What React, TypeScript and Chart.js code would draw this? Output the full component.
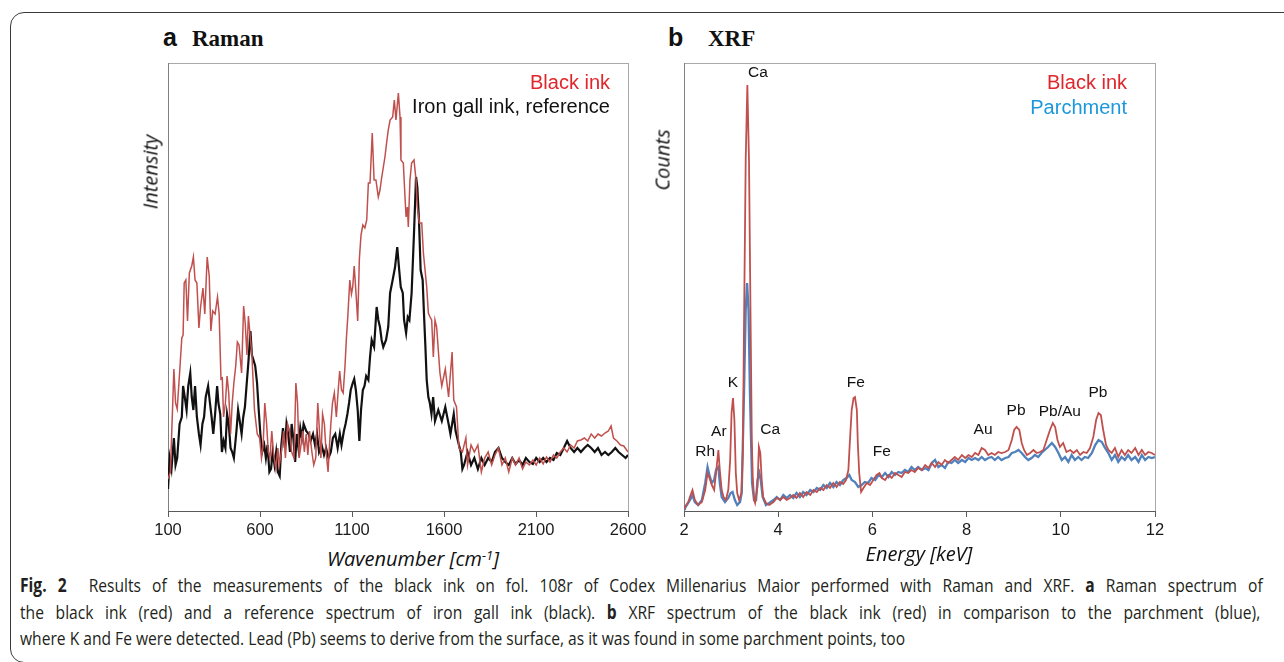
import React, { useEffect, useLayoutEffect, useRef } from "react";
import { Chart, registerables } from "chart.js";
Chart.register(...registerables);

// ---------- DATA ----------
const ramanTicks = [100, 600, 1100, 1600, 2100, 2600];
const xrfTicks = [2, 4, 6, 8, 10, 12];

// Raman: [wavenumber cm-1, intensity (a.u.)]
const ramanBlackInk: [number, number][] = [
  [100,32],[113,39],[132,142],[141,108],[150,102],[163,138],[175,173],[182,176],[188,228],[197,231],[206,190],[216,238],[229,245],[238,254],[247,231],[257,228],[268,183],[277,204],[290,223],[300,197],[313,254],[324,235],[333,180],[343,200],[356,197],[369,214],[378,197],[388,132],[395,133],[402,94],[412,108],[421,135],[430,118],[440,77],[449,108],[458,128],[468,145],[477,169],[486,166],[500,138],[511,205],[520,187],[529,156],[537,195],[546,176],[556,156],[570,101],[585,77],[598,73],[608,53],[617,66],[626,108],[636,87],[645,59],[654,53],[664,80],[673,59],[686,42],[697,63],[705,46],[716,59],[729,80],[738,53],[750,87],[761,80],[772,59],[785,53],[795,128],[804,108],[813,53],[823,66],[832,80],[841,59],[851,77],[860,56],[869,80],[882,59],[892,46],[903,53],[914,108],[921,87],[931,53],[940,97],[950,87],[959,59],[970,39],[977,63],[985,87],[994,108],[1004,118],[1015,94],[1024,118],[1033,140],[1043,121],[1052,118],[1062,145],[1069,171],[1078,197],[1088,231],[1097,217],[1104,224],[1112,245],[1123,214],[1131,190],[1140,252],[1149,276],[1159,286],[1170,283],[1180,291],[1189,328],[1198,328],[1210,378],[1220,331],[1230,331],[1243,314],[1252,321],[1261,333],[1279,354],[1288,368],[1297,381],[1307,391],[1321,394],[1330,411],[1339,391],[1352,418],[1361,394],[1366,351],[1379,348],[1388,314],[1394,294],[1401,304],[1406,284],[1415,331],[1424,348],[1437,351],[1448,331],[1455,304],[1466,288],[1479,288],[1488,258],[1506,224],[1515,198],[1524,194],[1533,191],[1542,154],[1551,191],[1560,184],[1578,138],[1588,125],[1607,142],[1625,114],[1644,159],[1653,111],[1668,104],[1681,63],[1700,59],[1719,73],[1728,46],[1747,66],[1765,59],[1784,66],[1803,39],[1821,53],[1840,59],[1859,46],[1877,56],[1896,63],[1915,46],[1933,53],[1952,39],[1971,53],[1989,46],[2008,53],[2027,42],[2045,49],[2064,46],[2083,51],[2101,46],[2120,53],[2139,47],[2157,54],[2176,49],[2195,56],[2213,53],[2232,59],[2251,63],[2269,59],[2288,66],[2307,63],[2325,70],[2344,71],[2363,73],[2381,70],[2400,77],[2419,73],[2437,77],[2456,75],[2475,78],[2493,80],[2508,85],[2521,73],[2540,70],[2559,66],[2577,65],[2600,59]
];
const ramanIronGallRef: [number, number][] = [
  [100,22],[109,53],[119,42],[132,73],[141,46],[150,53],[163,87],[175,94],[182,125],[191,114],[201,101],[210,125],[221,138],[229,114],[238,101],[247,125],[257,94],[268,77],[277,66],[287,87],[296,94],[305,114],[318,125],[328,108],[337,94],[346,77],[356,97],[367,125],[374,108],[384,97],[393,59],[402,70],[412,63],[421,97],[430,87],[440,63],[449,59],[458,53],[472,80],[481,101],[490,90],[500,77],[509,94],[518,104],[528,128],[537,149],[548,180],[556,156],[563,152],[574,145],[584,128],[593,101],[602,77],[612,59],[623,66],[632,53],[641,66],[651,39],[660,42],[669,59],[679,46],[688,59],[697,39],[707,35],[716,66],[725,83],[735,63],[744,87],[753,77],[763,59],[772,87],[781,73],[791,49],[800,77],[809,63],[819,83],[828,73],[837,87],[851,80],[864,77],[875,70],[888,77],[899,66],[910,77],[921,59],[935,66],[948,56],[959,63],[972,53],[985,59],[996,73],[1009,77],[1022,63],[1034,77],[1043,66],[1056,80],[1065,87],[1075,97],[1084,108],[1093,121],[1104,128],[1112,132],[1121,121],[1131,101],[1140,70],[1149,101],[1159,121],[1168,125],[1177,135],[1189,131],[1198,154],[1207,171],[1220,164],[1234,204],[1243,191],[1252,184],[1261,171],[1270,164],[1285,171],[1297,184],[1307,218],[1321,231],[1334,244],[1346,264],[1355,244],[1365,224],[1376,218],[1383,191],[1394,178],[1403,194],[1412,191],[1424,218],[1437,278],[1448,334],[1455,324],[1464,291],[1473,241],[1484,231],[1491,198],[1499,164],[1506,131],[1515,114],[1523,108],[1532,97],[1541,114],[1551,90],[1569,101],[1588,90],[1607,104],[1625,87],[1635,77],[1653,97],[1663,80],[1681,66],[1691,59],[1700,42],[1709,46],[1728,59],[1747,46],[1765,53],[1784,42],[1803,53],[1821,46],[1840,53],[1859,49],[1877,59],[1896,63],[1915,53],[1933,49],[1952,46],[1971,53],[1989,47],[2008,51],[2027,46],[2045,53],[2064,49],[2083,47],[2101,53],[2120,49],[2139,53],[2157,49],[2176,53],[2195,51],[2213,58],[2232,56],[2251,63],[2269,70],[2288,63],[2307,59],[2325,63],[2344,59],[2363,63],[2381,66],[2400,63],[2419,59],[2437,63],[2456,56],[2475,59],[2493,56],[2512,59],[2531,63],[2549,59],[2568,56],[2587,53],[2600,56]
];

// XRF: [energy keV, counts (a.u.)]
const xrfBlackInk: [number, number][] = [
  [2.00,3],[2.02,4],[2.09,9],[2.14,16],[2.18,21],[2.23,11],[2.30,6],[2.38,9],[2.45,21],[2.50,38],[2.54,33],[2.59,26],[2.64,21],[2.68,38],[2.73,61],[2.76,41],[2.80,21],[2.84,14],[2.89,11],[2.94,21],[2.98,51],[3.01,98],[3.04,113],[3.07,91],[3.10,38],[3.13,18],[3.17,11],[3.22,18],[3.25,60],[3.274,184],[3.31,351],[3.345,426],[3.38,351],[3.415,184],[3.44,70],[3.46,34],[3.49,11],[3.51,8],[3.56,24],[3.59,64],[3.62,58],[3.65,31],[3.68,14],[3.74,8],[3.81,6],[3.90,9],[3.97,13],[4.04,11],[4.11,14],[4.18,11],[4.25,13],[4.32,16],[4.39,13],[4.46,18],[4.53,14],[4.60,19],[4.68,16],[4.75,21],[4.82,19],[4.89,23],[4.96,21],[5.03,26],[5.10,23],[5.17,28],[5.24,24],[5.31,29],[5.38,27],[5.44,31],[5.49,41],[5.52,68],[5.56,101],[5.60,113],[5.63,114],[5.67,101],[5.69,68],[5.72,38],[5.76,19],[5.81,23],[5.88,28],[5.95,26],[6.02,31],[6.09,36],[6.15,38],[6.20,33],[6.27,31],[6.34,36],[6.41,33],[6.48,38],[6.55,36],[6.62,34],[6.69,39],[6.76,38],[6.83,41],[6.90,39],[6.97,43],[7.05,41],[7.12,46],[7.19,43],[7.26,48],[7.33,44],[7.40,49],[7.47,46],[7.54,51],[7.61,48],[7.68,51],[7.75,54],[7.82,51],[7.90,56],[7.97,53],[8.04,56],[8.11,54],[8.18,58],[8.25,56],[8.32,63],[8.39,61],[8.46,56],[8.53,58],[8.60,56],[8.67,59],[8.74,58],[8.82,59],[8.89,61],[8.96,71],[9.01,81],[9.06,84],[9.12,81],[9.17,68],[9.22,61],[9.28,56],[9.35,58],[9.42,61],[9.49,58],[9.56,59],[9.63,61],[9.70,71],[9.77,81],[9.83,88],[9.88,84],[9.93,71],[9.98,64],[10.05,68],[10.12,59],[10.20,61],[10.27,58],[10.34,61],[10.41,56],[10.48,59],[10.55,58],[10.62,63],[10.69,74],[10.75,91],[10.80,98],[10.85,96],[10.90,81],[10.96,66],[11.01,61],[11.08,58],[11.15,63],[11.22,54],[11.29,61],[11.36,56],[11.43,61],[11.50,58],[11.58,63],[11.65,56],[11.72,61],[11.79,56],[11.86,59],[11.93,58],[12.00,56]
];
const xrfParchment: [number, number][] = [
  [2.00,2],[2.02,3],[2.09,8],[2.14,12],[2.18,16],[2.23,9],[2.30,6],[2.38,11],[2.45,28],[2.50,44],[2.54,36],[2.59,28],[2.64,31],[2.68,41],[2.73,44],[2.76,28],[2.80,14],[2.87,9],[2.94,13],[2.99,18],[3.03,19],[3.08,11],[3.13,6],[3.19,9],[3.225,18],[3.274,118],[3.31,201],[3.34,228],[3.37,201],[3.40,118],[3.445,28],[3.487,11],[3.53,11],[3.56,31],[3.60,38],[3.63,31],[3.67,14],[3.74,6],[3.81,8],[3.90,11],[3.97,14],[4.04,11],[4.11,16],[4.18,13],[4.25,16],[4.32,13],[4.39,18],[4.46,14],[4.53,19],[4.60,16],[4.68,21],[4.75,19],[4.82,23],[4.89,21],[4.96,26],[5.03,23],[5.10,28],[5.17,24],[5.24,29],[5.31,26],[5.38,31],[5.45,33],[5.51,36],[5.56,31],[5.63,29],[5.70,24],[5.77,26],[5.84,29],[5.91,28],[5.98,33],[6.06,31],[6.13,36],[6.20,34],[6.27,38],[6.34,34],[6.41,39],[6.48,36],[6.55,39],[6.62,38],[6.69,41],[6.76,39],[6.83,44],[6.90,41],[6.97,44],[7.05,41],[7.12,43],[7.19,41],[7.26,48],[7.33,51],[7.40,44],[7.47,46],[7.54,43],[7.61,49],[7.68,48],[7.75,51],[7.82,48],[7.90,51],[7.97,49],[8.04,53],[8.11,51],[8.18,53],[8.25,51],[8.32,54],[8.39,51],[8.46,53],[8.53,54],[8.60,51],[8.67,54],[8.74,51],[8.82,53],[8.89,54],[8.96,58],[9.03,59],[9.10,61],[9.17,58],[9.24,54],[9.31,51],[9.38,53],[9.45,56],[9.52,54],[9.59,58],[9.66,61],[9.73,64],[9.81,68],[9.88,64],[9.95,58],[10.02,51],[10.09,54],[10.16,49],[10.23,56],[10.30,51],[10.37,54],[10.44,51],[10.51,54],[10.58,53],[10.66,58],[10.73,66],[10.80,71],[10.87,69],[10.94,63],[11.01,58],[11.08,51],[11.15,56],[11.22,49],[11.29,54],[11.36,51],[11.43,56],[11.50,51],[11.58,54],[11.65,49],[11.72,56],[11.79,51],[11.86,54],[11.93,53],[12.00,54]
];

const xrfPeakNames = ["Rh", "Ar", "K", "Ca", "Ca", "Fe", "Fe", "Au", "Pb", "Pb/Au", "Pb"];
const xrfPeakEnergies = [2.45, 2.74, 3.04, 3.57, 3.83, 5.65, 6.20, 8.35, 9.05, 9.98, 10.79];
const xrfPeakHeights = [59, 79, 128, 438, 81, 128, 59, 81, 100, 99, 118];

// ---------- STYLE ----------
const SANS = "'Liberation Sans', Arial, sans-serif";
const RED_LINE = "#c0504d";
const BLUE_LINE = "#4f81bd";

const framePlugin = {
  id: "frame",
  beforeDraw(chart: any) {
    const { ctx, chartArea: a } = chart;
    ctx.save();
    ctx.lineWidth = 1;
    ctx.strokeStyle = "#a9a9a9";
    ctx.strokeRect(Math.round(a.left) + 0.5, Math.round(a.top) + 0.5, Math.round(a.right - a.left), Math.round(a.bottom - a.top));
    ctx.strokeStyle = "#808080";
    ctx.beginPath();
    ctx.moveTo(Math.round(a.left) + 0.5, Math.round(a.top));
    ctx.lineTo(Math.round(a.left) + 0.5, Math.round(a.bottom));
    ctx.stroke();
    ctx.restore();
  },
};

const peakLabelPlugin = {
  id: "peakLabels",
  afterDatasetsDraw(chart: any) {
    const { ctx } = chart;
    const xs = chart.scales.x;
    const ys = chart.scales.y;
    ctx.save();
    ctx.font = `15.5px ${SANS}`;
    ctx.fillStyle = "#111";
    ctx.textAlign = "center";
    ctx.textBaseline = "middle";
    xrfPeakNames.forEach((n, i) => {
      ctx.fillText(n, xs.getPixelForValue(xrfPeakEnergies[i]), ys.getPixelForValue(xrfPeakHeights[i]));
    });
    ctx.restore();
  },
};

function buildOptions(min: number, max: number, ticks: number[]) {
  return {
    animation: false,
    responsive: false,
    maintainAspectRatio: false,
    layout: { padding: { left: 30, right: 30, top: 8, bottom: 0 } },
    plugins: { legend: { display: false }, tooltip: { enabled: false } },
    elements: { point: { radius: 0 }, line: { tension: 0 } },
    scales: {
      x: {
        type: "linear",
        min,
        max,
        afterBuildTicks: (s: any) => {
          s.ticks = ticks.map((v) => ({ value: v }));
        },
        afterFit: (s: any) => {
          s.height = 30;
        },
        grid: { drawOnChartArea: false, drawTicks: true, tickLength: 6, color: "#5a5a5a", lineWidth: 1 },
        border: { display: true, color: "#5a5a5a", width: 1 },
        ticks: {
          autoSkip: false,
          maxRotation: 0,
          padding: 4,
          color: "#1a1a1a",
          font: { family: SANS, size: 16.5 },
          callback: (v: any) => String(v),
        },
      },
      y: { display: false, min: 0, max: 448 },
    },
  };
}

const pts = (arr: [number, number][]) => arr.map(([x, y]) => ({ x, y }));

const captionLines: { b?: boolean; t: string }[][] = [
  [
    { b: true, t: "Fig. 2" },
    { t: "  Results of the measurements of the black ink on fol. 108r of Codex Millenarius Maior performed with Raman and XRF. " },
    { b: true, t: "a" },
    { t: " Raman spectrum of" },
  ],
  [
    { t: "the black ink (red) and a reference spectrum of iron gall ink (black). " },
    { b: true, t: "b" },
    { t: " XRF spectrum of the black ink (red) in comparison to the parchment (blue)," },
  ],
  [{ t: "where K and Fe were detected. Lead (Pb) seems to derive from the surface, as it was found in some parchment points, too" }],
];
const captionWidths = [1243, 1240, 885];
const captionCenters = [585, 612, 638];

export default function App() {
  const ramanRef = useRef<HTMLCanvasElement>(null);
  const xrfRef = useRef<HTMLCanvasElement>(null);
  const capRefs = useRef<(HTMLSpanElement | null)[]>([]);

  useLayoutEffect(() => {
    const els = capRefs.current;
    const last = els[2];
    if (!last) return;
    const k = captionWidths[2] / last.offsetWidth;
    els.forEach((el, i) => {
      if (!el) return;
      if (i < 2) {
        const natural = el.offsetWidth;
        const spaces = (el.textContent || "").split(" ").length - 1;
        const extra = captionWidths[i] / k - natural;
        if (spaces > 0 && extra > 0) el.style.wordSpacing = `${extra / spaces}px`;
      }
      el.style.transform = `scaleX(${k})`;
    });
  }, []);

  useEffect(() => {
    const c1 = new Chart(ramanRef.current as HTMLCanvasElement, {
      type: "line",
      data: {
        datasets: [
          { data: pts(ramanBlackInk), borderColor: RED_LINE, borderWidth: 1.5, pointRadius: 0, fill: false },
          { data: pts(ramanIronGallRef), borderColor: "#111111", borderWidth: 2.2, pointRadius: 0, fill: false },
        ],
      },
      options: buildOptions(100, 2600, ramanTicks) as any,
      plugins: [framePlugin],
    });
    const c2 = new Chart(xrfRef.current as HTMLCanvasElement, {
      type: "line",
      data: {
        datasets: [
          { data: pts(xrfBlackInk), borderColor: RED_LINE, borderWidth: 1.8, pointRadius: 0, fill: false },
          { data: pts(xrfParchment), borderColor: BLUE_LINE, borderWidth: 2.3, pointRadius: 0, fill: false },
        ],
      },
      options: buildOptions(2, 12, xrfTicks) as any,
      plugins: [framePlugin, peakLabelPlugin],
    });
    return () => {
      c1.destroy();
      c2.destroy();
    };
  }, []);

  const abs = (s: React.CSSProperties): React.CSSProperties => ({ position: "absolute", ...s });
  const legendStyle: React.CSSProperties = { fontFamily: SANS, fontSize: 20, lineHeight: "22px", textAlign: "right", whiteSpace: "nowrap" };
  const axisTitle: React.CSSProperties = { fontFamily: "'Open Sans', sans-serif", fontStyle: "italic", fontSize: 20, whiteSpace: "nowrap", color: "#111" };
  const serifTitle: React.CSSProperties = { fontFamily: "'Liberation Serif', 'Times New Roman', serif", fontWeight: 700, fontSize: 23, lineHeight: "28px", color: "#111" };
  const letterTitle: React.CSSProperties = { fontFamily: SANS, fontWeight: 700, fontSize: 25, lineHeight: "28px", color: "#111" };

  return (
    <div style={{ position: "absolute", left: 0, top: 0, width: 1284, height: 662, overflow: "hidden", background: "#fff" }}>
      <div style={abs({ left: 10, top: 12, width: 1300, height: 651, border: "1.5px solid #3a3a3a", borderRadius: 14, boxSizing: "border-box" })} />

      {/* panel titles */}
      <div style={abs({ left: 163, top: 23, ...letterTitle })}>a</div>
      <div style={abs({ left: 192, top: 25, ...serifTitle })}>Raman</div>
      <div style={abs({ left: 668, top: 23, ...letterTitle })}>b</div>
      <div style={abs({ left: 708, top: 25, ...serifTitle })}>XRF</div>

      {/* charts */}
      <div style={abs({ left: 138, top: 55, width: 520, height: 486 })}>
        <canvas ref={ramanRef} width={520} height={486} style={{ display: "block", width: 520, height: 486 }} />
      </div>
      <div style={abs({ left: 654, top: 55, width: 531, height: 486 })}>
        <canvas ref={xrfRef} width={531} height={486} style={{ display: "block", width: 531, height: 486 }} />
      </div>

      {/* legends */}
      <div style={abs({ left: 0, width: 610, top: 71, color: "#e0262a", ...legendStyle })}>Black ink</div>
      <div style={abs({ left: 0, width: 610, top: 95, color: "#111", ...legendStyle })}>Iron gall ink, reference</div>
      <div style={abs({ left: 0, width: 1127, top: 71, color: "#e0262a", ...legendStyle })}>Black ink</div>
      <div style={abs({ left: 0, width: 1127, top: 96, color: "#1b98dc", ...legendStyle })}>Parchment</div>

      {/* axis titles */}
      <div style={abs({ left: 150, top: 172, transform: "translate(-50%, -50%) rotate(-90deg)", ...axisTitle })}>Intensity</div>
      <div style={abs({ left: 662, top: 160, transform: "translate(-50%, -50%) rotate(-90deg)", ...axisTitle })}>Counts</div>
      <div style={abs({ left: 413, top: 558, transform: "translate(-50%, -50%)", ...axisTitle })}>
        Wavenumber [cm<sup style={{ fontSize: 13, verticalAlign: "6px", lineHeight: 0 }}>-1</sup>]
      </div>
      <div style={abs({ left: 919, top: 553, transform: "translate(-50%, -50%)", ...axisTitle })}>Energy [keV]</div>

      {/* caption */}
      {captionLines.map((line, i) => (
        <span
          key={i}
          ref={(el) => {
            capRefs.current[i] = el;
          }}
          style={abs({
            left: 20,
            top: captionCenters[i] - 13,
            lineHeight: "26px",
            fontFamily: "'Open Sans', sans-serif",
            fontSize: 19,
            color: "#231f20",
            whiteSpace: "pre",
            transformOrigin: "0 50%",
            display: "inline-block",
          })}
        >
          {line.map((seg, j) => (
            <span key={j} style={seg.b ? { fontWeight: 700 } : undefined}>
              {seg.t}
            </span>
          ))}
        </span>
      ))}
    </div>
  );
}
